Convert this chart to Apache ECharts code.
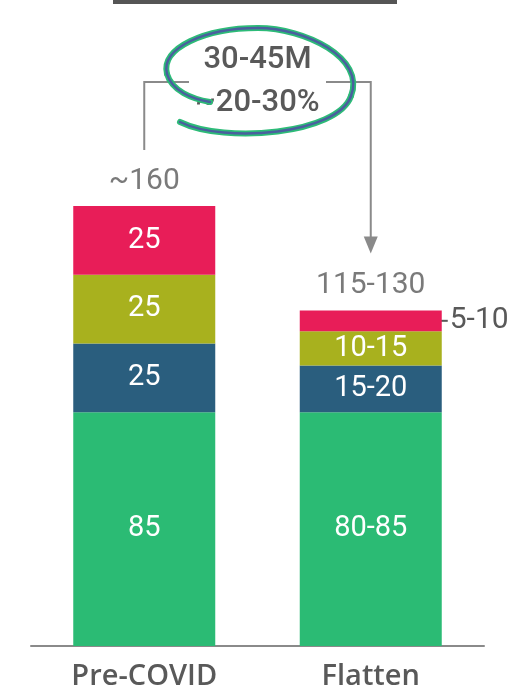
<!DOCTYPE html>
<html>
<head>
<meta charset="utf-8">
<script src="https://cdn.jsdelivr.net/npm/echarts@6/dist/echarts.min.js"></script>
<style>
  html, body { margin: 0; padding: 0; background: #fff; }
  #chart { width: 513px; height: 691px; }
</style>
</head>
<body>
<div id="chart"></div>
<script>
// data
var categories = ["Pre-COVID", "Flatten"];
var baseValues = [85, 85];      // green
var midValues = [25, 17];       // blue
var upperValues = [25, 12.5];   // olive
var topValues = [25, 7.5];      // red
var baseLabels = ["85", "80-85"];
var midLabels = ["25", "15-20"];
var upperLabels = ["25", "10-15"];
var topLabels = ["25", "5-10"];
var totalLabels = ["~160", "115-130"];
var gapLabels = ["30-45M", "~20-30%"];

var gray = "#595959";
var lineGray = "#8a8a8a";
var font = "Roboto";

var totals = categories.map(function (c, i) {
  return baseValues[i] + midValues[i] + upperValues[i] + topValues[i];
});

function seg(name, values, labels, color) {
  return {
    name: name,
    type: "bar",
    stack: "all",
    barWidth: 142,
    itemStyle: { color: color },
    label: {
      show: true,
      position: "inside",
      color: "#fff",
      fontFamily: font,
      fontWeight: 400,
      fontSize: 29,
      formatter: function (p) { return labels[p.dataIndex]; }
    },
    data: values.slice()
  };
}

var chart = echarts.init(document.getElementById("chart"));

var topSeries = seg("top", topValues, topLabels, "#e81d58");
// the small red piece of Flatten has its label outside on the right
topSeries.data = topValues.map(function (v, i) {
  if (i === 1) {
    return {
      value: v,
      label: { position: "right", distance: 8, color: gray, fontSize: 30 }
    };
  }
  return v;
});

chart.setOption({
  animation: false,
  grid: { left: 31, right: 29, top: 96, bottom: 45 },
  xAxis: {
    type: "category",
    data: categories,
    axisTick: { show: false },
    axisLine: { lineStyle: { color: lineGray, width: 2 } },
    axisLabel: {
      color: gray,
      fontFamily: "Open Sans",
      fontWeight: 600,
      fontSize: 29,
      margin: 16
    }
  },
  yAxis: { type: "value", min: 0, max: 200, show: false, splitLine: { show: false } },
  series: [
    seg("base", baseValues, baseLabels, "#2bbb74"),
    seg("mid", midValues, midLabels, "#2a5e7e"),
    seg("upper", upperValues, upperLabels, "#a8b11e"),
    topSeries,
    {
      name: "total",
      type: "scatter",
      symbolSize: 0,
      silent: true,
      label: {
        show: true,
        position: "top",
        distance: 10,
        color: gray,
        fontFamily: font,
        fontWeight: 400,
        fontSize: 30,
        formatter: function (p) { return totalLabels[p.dataIndex]; }
      },
      data: totals
    }
  ]
});

// annotation: bracket, arrow, circled gap text, leader line for 5-10
var p0 = chart.convertToPixel({ seriesIndex: 4 }, [0, totals[0]]);
var p1 = chart.convertToPixel({ seriesIndex: 4 }, [1, totals[1]]);
var redMid = chart.convertToPixel({ seriesIndex: 0 }, [1, totals[1] - topValues[1] / 2]);
var barRight = p1[0] + 71;
var bracketY = 82;
var midX = (p0[0] + p1[0]) / 2;

// hand drawn loop round the gap text, as cubic pieces
var loop = [
  [180, 122, 225, 144, 338, 134, 351, 96],
  [351, 96, 366, 58, 305, 28, 258, 28],
  [258, 28, 205, 28, 160, 48, 167, 74],
  [167, 74, 172, 91, 192, 99, 210, 102]
];
function loopPieces(color, width) {
  return loop.map(function (c) {
    return {
      type: "bezierCurve",
      shape: { x1: c[0], y1: c[1], cpx1: c[2], cpy1: c[3], cpx2: c[4], cpy2: c[5], x2: c[6], y2: c[7] },
      style: { stroke: color, lineWidth: width, fill: null, lineCap: "round" }
    };
  });
}

var graphics = [
  { type: "rect", shape: { x: 113, y: -2, width: 284, height: 6 }, style: { fill: "#555" } },
  {
    type: "polyline",
    shape: { points: [[p0[0], p0[1] - 56], [p0[0], bracketY], [189, bracketY]] },
    style: { stroke: lineGray, lineWidth: 2, fill: null }
  },
  {
    type: "polyline",
    shape: { points: [[326, bracketY], [p1[0], bracketY], [p1[0], p1[1] - 72]] },
    style: { stroke: lineGray, lineWidth: 2, fill: null }
  },
  {
    type: "polygon",
    shape: { points: [[p1[0] - 7, p1[1] - 74], [p1[0] + 7, p1[1] - 74], [p1[0], p1[1] - 57]] },
    style: { fill: lineGray }
  },
  {
    type: "line",
    shape: { x1: barRight - 17, y1: redMid[1], x2: barRight + 6, y2: redMid[1] },
    style: { stroke: gray, lineWidth: 2 }
  },
  {
    type: "text", x: midX, y: 60,
    style: {
      text: gapLabels[0], fill: gray, font: "500 31px Roboto",
      align: "center", verticalAlign: "middle"
    }
  },
  {
    type: "text", x: midX, y: 103,
    style: {
      text: gapLabels[1], fill: gray, font: "500 31px Roboto",
      align: "center", verticalAlign: "middle"
    }
  }
].concat(loopPieces("#2dbb78", 6), loopPieces("#4a5f9e", 2.5));

chart.setOption({ graphic: graphics });
</script>
</body>
</html>
